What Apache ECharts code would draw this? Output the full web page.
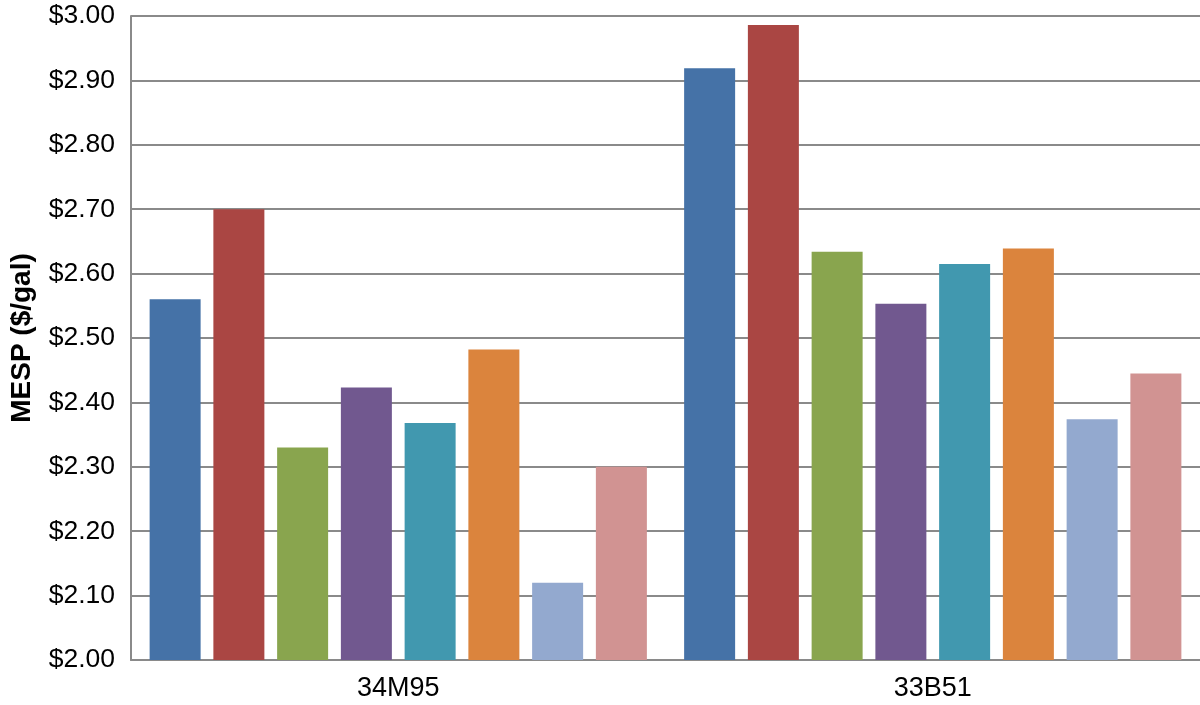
<!DOCTYPE html>
<html>
<head>
<meta charset="utf-8">
<script src="https://cdn.jsdelivr.net/npm/echarts@6/dist/echarts.min.js"></script>
<style>html,body{margin:0;padding:0;background:#fff}#c{width:1200px;height:705px}</style>
</head>
<body>
<div id="c"></div>
<script>
var categories = ['34M95', '33B51'];
var seriesNames = ['S1', 'S2', 'S3', 'S4', 'S5', 'S6', 'S7', 'S8'];
var s1 = [2.56, 2.919];
var s2 = [2.70, 2.986];
var s3 = [2.33, 2.634];
var s4 = [2.423, 2.553];
var s5 = [2.368, 2.615];
var s6 = [2.482, 2.639];
var s7 = [2.12, 2.374];
var s8 = [2.30, 2.445];
var allValues = [s1, s2, s3, s4, s5, s6, s7, s8];
var colors = ['#4572A7', '#AA4643', '#89A54E', '#71588F', '#4198AF', '#DB843D', '#93A9CF', '#D19392'];

var chart = echarts.init(document.getElementById('c'));
var series = allValues.map(function (vals, i) {
  return {
    name: seriesNames[i],
    type: 'bar',
    data: vals,
    barWidth: 51,
    barGap: '25%',
    itemStyle: { color: colors[i] },
    animation: false
  };
});
chart.setOption({
  animation: false,
  grid: { left: 130, top: 16, bottom: 45, width: 1072 },
  xAxis: {
    type: 'category',
    data: categories,
    axisLine: { lineStyle: { color: '#8a8a8a', width: 2 } },
    axisTick: { show: false },
    axisLabel: { color: '#000', fontSize: 27, fontFamily: 'Liberation Sans', margin: 15 }
  },
  yAxis: {
    type: 'value',
    min: 2.0,
    max: 3.0,
    interval: 0.1,
    name: 'MESP ($/gal)',
    nameLocation: 'middle',
    nameGap: 95,
    nameRotate: 90,
    nameTextStyle: { color: '#000', fontSize: 28, fontWeight: 'bold', fontFamily: 'Liberation Sans' },
    axisLine: { show: true, lineStyle: { color: '#8a8a8a', width: 2 } },
    axisTick: { show: false },
    splitLine: { lineStyle: { color: '#8a8a8a', width: 2 } },
    axisLabel: {
      color: '#000', fontSize: 26.5, fontFamily: 'Liberation Sans', margin: 16,
      formatter: function (v) { return '$' + v.toFixed(2); }
    }
  },
  series: series
});
</script>
</body>
</html>
